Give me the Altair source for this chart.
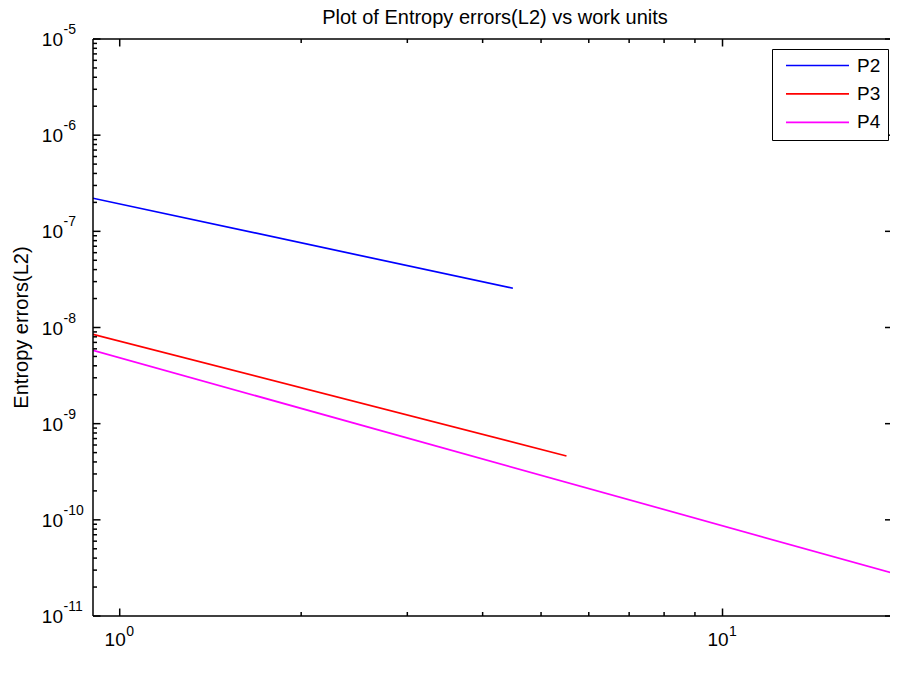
import altair as alt
import pandas as pd

# ---------------- data ----------------
series = ["P2", "P3", "P4"]
colors = ["#0000ff", "#ff0000", "#ff00ff"]

p2_work = [0.903, 4.49]
p2_err = [2.21e-7, 2.56e-8]
p3_work = [0.903, 5.51]
p3_err = [8.49e-9, 4.61e-10]
p4_work = [0.903, 19.55]
p4_err = [5.78e-9, 2.69e-11]

x_domain = [0.903, 18.96]
y_domain = [1e-11, 1e-5]
x_major_exp = [0, 1]
y_major_exp = [-11, -10, -9, -8, -7, -6, -5]
minor_mult = [2, 3, 4, 5, 6, 7, 8, 9]

title_text = "Plot of Entropy errors(L2) vs work units"
x_title = "work units"
y_title = "Entropy errors(L2)"

# ---------------- layout ----------------
W, H = 797, 577
FONT = "Liberation Sans"
MAJ, MIN = 7.5, 4
CX = 402  # horizontal centre of the reference axes box

rows = []
for name, xs_, ys_ in zip(series, [p2_work, p3_work, p4_work], [p2_err, p3_err, p4_err]):
    for xv, yv in zip(xs_, ys_):
        rows.append({"series": name, "work": xv, "err": yv})
lines_df = pd.DataFrame(rows)

x_major = pd.DataFrame({"work": [10.0 ** e for e in x_major_exp],
                        "base": ["10"] * len(x_major_exp),
                        "exp": [str(e) for e in x_major_exp]})
y_major = pd.DataFrame({"err": [10.0 ** e for e in y_major_exp],
                        "base": ["10"] * len(y_major_exp),
                        "exp": [str(e) for e in y_major_exp]})
x_minor = pd.DataFrame({"work": [m * 10.0 ** e for e in x_major_exp for m in minor_mult
                                 if x_domain[0] <= m * 10.0 ** e <= x_domain[1]]})
y_minor = pd.DataFrame({"err": [m * 10.0 ** e for e in y_major_exp[:-1] for m in minor_mult]})

xs = alt.Scale(type="log", domain=x_domain, nice=False, zero=False)
ys = alt.Scale(type="log", domain=y_domain, nice=False, zero=False)

x_axis = alt.Axis(labels=False, ticks=False, domain=False, grid=False, title=x_title,
                  titleFont=FONT, titleFontSize=20, titleFontWeight="normal", titleColor="black",
                  titleX=CX, titleY=54, titleAlign="center", titleBaseline="alphabetic")

lines = alt.Chart(lines_df).mark_line(strokeWidth=1.7, clip=True).encode(
    x=alt.X("work:Q", scale=xs, axis=x_axis),
    y=alt.Y("err:Q", scale=ys, axis=None),
    color=alt.Color("series:N", scale=alt.Scale(domain=series, range=colors),
                    legend=alt.Legend(title=None, orient="none", legendX=679, legendY=10,
                                      symbolType="stroke", symbolSize=3969,
                                      symbolStrokeWidth=1.7, labelFont=FONT,
                                      labelFontSize=19, labelColor="black",
                                      labelOffset=7, symbolOffset=6, padding=7,
                                      clipHeight=19, rowPadding=8.4,
                                      strokeColor="black", fillColor="white")),
    detail="series:N",
)

rule_style = dict(color="black", strokeWidth=1.5)

# frame (left, top, bottom; the right axis lies just outside the picture)
frame_left = alt.Chart(pd.DataFrame({"k": [0]})).mark_rule(**rule_style).encode(
    x=alt.value(0), y=alt.value(0), y2=alt.value(H))
frame_top = alt.Chart(pd.DataFrame({"k": [0]})).mark_rule(**rule_style).encode(
    x=alt.value(0), x2=alt.value(W), y=alt.value(0))
frame_bottom = alt.Chart(pd.DataFrame({"k": [0]})).mark_rule(**rule_style).encode(
    x=alt.value(0), x2=alt.value(W), y=alt.value(H))

def yticks(df, x0, x1):
    return alt.Chart(df).mark_rule(**rule_style).encode(
        y=alt.Y("err:Q", scale=ys, axis=None), x=alt.value(x0), x2=alt.value(x1))

def xticks(df, y0, y1):
    return alt.Chart(df).mark_rule(**rule_style).encode(
        x=alt.X("work:Q", scale=xs, axis=None), y=alt.value(y0), y2=alt.value(y1))

ticks = [
    yticks(y_major, 0, MAJ), yticks(y_minor, 0, MIN),
    yticks(y_major, W, W - 5),
    xticks(x_major, H, H - MAJ), xticks(x_minor, H, H - MIN),
    xticks(x_major, 0, MAJ), xticks(x_minor, 0, MIN),
]

y_base = alt.Chart(y_major).mark_text(align="right", baseline="alphabetic", dy=7,
                                      font=FONT, fontSize=19, color="black").encode(
    y=alt.Y("err:Q", scale=ys, axis=None), x=alt.value(-30), text="base:N")
y_exp = alt.Chart(y_major).mark_text(align="left", baseline="alphabetic", dy=-5,
                                     font=FONT, fontSize=14, color="black").encode(
    y=alt.Y("err:Q", scale=ys, axis=None), x=alt.value(-29.5), text="exp:N")
x_base = alt.Chart(x_major).mark_text(align="right", baseline="alphabetic", dx=6,
                                      font=FONT, fontSize=19, color="black").encode(
    x=alt.X("work:Q", scale=xs, axis=None), y=alt.value(H + 30), text="base:N")
x_exp = alt.Chart(x_major).mark_text(align="left", baseline="alphabetic", dx=6.5,
                                     font=FONT, fontSize=14, color="black").encode(
    x=alt.X("work:Q", scale=xs, axis=None), y=alt.value(H + 19.5), text="exp:N")

title = alt.Chart(pd.DataFrame({"t": [title_text]})).mark_text(
    align="center", baseline="alphabetic", font=FONT, fontSize=20, color="black").encode(
    x=alt.value(CX), y=alt.value(-15), text="t:N")

y_label = alt.Chart(pd.DataFrame({"t": [y_title]})).mark_text(
    align="center", baseline="alphabetic", angle=270, font=FONT, fontSize=20,
    color="black").encode(
    x=alt.value(-65.5), y=alt.value(H / 2), text="t:N")

chart = alt.layer(
    lines, frame_left, frame_top, frame_bottom, *ticks, y_base, y_exp, x_base, x_exp,
    title, y_label
).properties(
    width=W, height=H,
    padding={"left": 85, "top": 31, "right": 0, "bottom": 40},
    autosize=alt.AutoSizeParams(type="none"),
    background="white",
).configure_view(strokeWidth=0)

chart.save("out.html", embed_options={"renderer": "svg", "actions": False})
